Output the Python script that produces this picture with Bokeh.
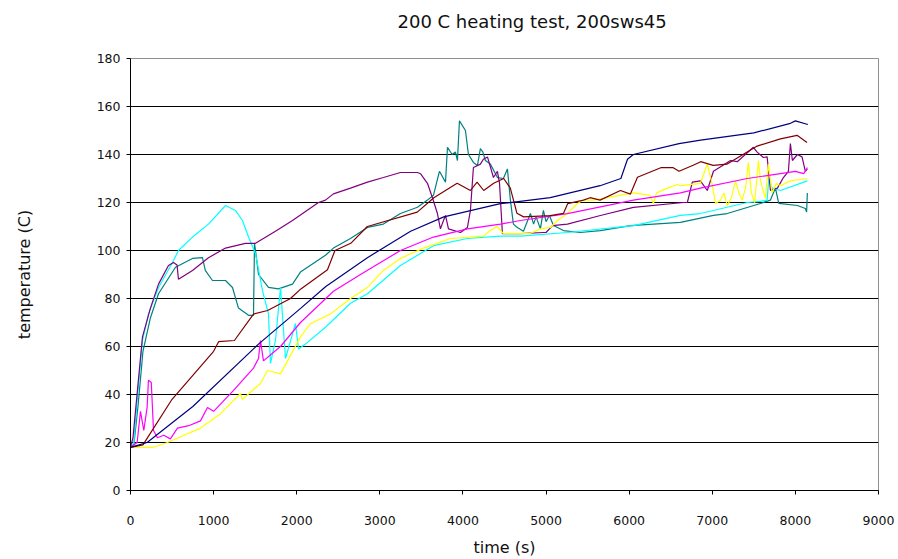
from bokeh.plotting import figure
from bokeh.models import FixedTicker, Title
from bokeh.embed import file_html
from bokeh.resources import INLINE

title_text = "200 C heating test, 200sws45"
x_label = "time (s)"
y_label = "temperature (C)"
x_ticks = [0, 1000, 2000, 3000, 4000, 5000, 6000, 7000, 8000, 9000]
y_ticks = [0, 20, 40, 60, 80, 100, 120, 140, 160, 180]

navy_x = [0, 200, 750, 1540, 2050, 2350, 2850, 3370, 3770, 4450, 5050, 5650, 5900, 5980, 6050, 6600, 6860, 7500, 7940, 8000, 8150]
navy_y = [18, 20, 35, 61, 76, 85, 97, 108, 114, 119.5, 122, 127, 130, 138, 140, 144.5, 146, 149, 153, 154, 152.5]

maroon_x = [0, 150, 500, 1000, 1060, 1250, 1480, 1650, 1925, 2050, 2370, 2460, 2650, 2850, 3450, 3650, 3930, 4090, 4170, 4250, 4370, 4490, 4570, 4650, 4730, 5050, 5210, 5260, 5450, 5530, 5650, 5895, 6015, 6100, 6380, 6530, 6600, 6770, 6860, 7010, 7180, 7370, 7540, 7820, 8020, 8140]
maroon_y = [18, 19, 38, 58, 62, 62.5, 73.5, 75, 80, 84, 92, 100, 103, 110, 116, 122, 128, 125, 128.5, 125, 128, 130, 126, 115.5, 114, 114.5, 115.5, 119.5, 121, 122, 121, 125, 123.5, 130.5, 134.5, 134.5, 133, 135.5, 137, 135.5, 136, 140, 143.5, 146.5, 148, 145]

magenta_x = [0, 80, 120, 160, 200, 216, 250, 277, 325, 400, 480, 565, 700, 842, 926, 1000, 1240, 1480, 1540, 1564, 1600, 1700, 1805, 2045, 2442, 2767, 3248, 3645, 4054, 4451, 4692, 5257, 6051, 6617, 6857, 7422, 8000, 8100, 8144]
magenta_y = [18, 20, 33, 25, 34.6, 46, 45, 25, 22, 23, 21.5, 26, 27, 29, 34.6, 33, 41.7, 51, 55, 62.5, 54, 57, 60, 70, 83, 90, 100, 105.6, 109, 111, 112.5, 115.4, 121, 124, 126, 130, 133, 132, 134.6]

yellow_x = [0, 277, 445, 842, 1083, 1323, 1347, 1564, 1648, 1805, 2045, 2165, 2406, 2647, 2851, 3043, 3248, 3525, 3850, 4246, 4330, 4410, 4487, 4800, 4932, 5053, 5136, 5257, 5377, 5450, 5570, 6051, 6250, 6292, 6330, 6460, 6580, 6617, 6857, 6940, 6990, 7040, 7100, 7140, 7180, 7230, 7280, 7320, 7360, 7400, 7434, 7470, 7510, 7555, 7580, 7639, 7675, 7720, 7770, 7820, 7940, 8144]
yellow_y = [18, 18, 20, 26, 32, 40.4, 38, 44.6, 50, 48.6, 64, 69.5, 73.6, 80, 84.6, 91.7, 96.7, 101, 105, 106, 108.3, 110, 107, 107, 109, 109.6, 112.5, 115.4, 119.6, 121, 121, 124, 123, 119.6, 124, 126, 127.5, 127, 128, 136, 129, 119.6, 121, 124, 118.7, 122, 129, 124, 121, 126, 136.7, 124, 120, 137.5, 129, 121.7, 136, 124, 128, 127, 129, 130]

cyan_x = [0, 40, 84, 144, 217, 337, 505, 577, 746, 938, 1143, 1263, 1347, 1420, 1504, 1588, 1660, 1684, 1744, 1805, 1865, 1985, 2021, 2105, 2346, 2647, 2851, 3248, 3645, 4054, 4451, 4692, 5257, 6051, 6617, 6857, 7422, 7579, 7660, 7680, 7720, 7820, 8144]
cyan_y = [18, 20, 39, 62.5, 73.7, 84.6, 95, 100, 105.6, 111, 118.75, 116.7, 112.5, 105.6, 98.75, 83.3, 73.6, 53, 62.5, 84.6, 55, 69.6, 59, 61, 68, 78, 82, 93.75, 102, 105, 106, 106, 107.5, 110.4, 114.6, 115.4, 120, 120.5, 121, 130, 126, 125, 129]

teal_x = [0, 40, 90, 150, 240, 337, 541, 746, 866, 900, 986, 1143, 1227, 1299, 1420, 1480, 1492, 1504, 1540, 1660, 1780, 1949, 2045, 2346, 2442, 2647, 2851, 3043, 3248, 3453, 3573, 3645, 3717, 3790, 3814, 3870, 3910, 3934, 3958, 4030, 4066, 4126, 4174, 4210, 4240, 4270, 4330, 4415, 4487, 4535, 4571, 4607, 4655, 4728, 4812, 4850, 4880, 4932, 4968, 5000, 5040, 5089, 5209, 5413, 5654, 6015, 6617, 7014, 7180, 7579, 7700, 7760, 7800, 8024, 8120, 8135, 8144]
teal_y = [18, 19, 35, 58, 72, 82, 93, 96.7, 97, 91.7, 87.5, 87.5, 84.6, 76, 73, 73, 103, 100, 90, 84.6, 84, 86, 91, 98, 101, 105, 109.6, 111, 115.4, 118, 121, 123, 133, 128.5, 143, 140, 141, 137.5, 154, 150, 140, 136.7, 135.4, 142.5, 141, 137.5, 136, 130.4, 130, 134, 121, 111, 109.6, 108, 115.4, 111, 114, 109, 116.7, 112, 114.6, 110.4, 108.3, 107.5, 108.3, 110.4, 111.7, 114.6, 115.4, 119.6, 121, 126, 119.6, 118.75, 117.5, 116, 124]

purple_x = [0, 30, 84, 144, 240, 337, 457, 517, 560, 577, 746, 938, 1143, 1383, 1504, 1744, 1949, 2262, 2346, 2442, 2647, 2851, 3043, 3248, 3453, 3489, 3573, 3633, 3693, 3729, 3766, 3790, 3826, 3970, 4054, 4090, 4126, 4210, 4246, 4295, 4367, 4415, 4440, 4475, 4692, 4968, 5000, 5077, 5257, 5654, 6051, 6653, 6700, 6760, 6857, 6940, 7014, 7220, 7300, 7495, 7540, 7615, 7660, 7700, 7784, 7856, 7916, 7940, 7964, 8024, 8080, 8120, 8144]
purple_y = [18, 22, 42, 64, 76, 86, 93.75, 95, 94, 88, 91.7, 97, 101, 103, 103, 108, 112.5, 120, 121, 123.6, 126, 128.5, 130.4, 132.5, 132.5, 132, 128, 122, 115.4, 109, 112.5, 114.6, 109, 107.5, 109.6, 116.7, 134.6, 136, 138, 139, 130.4, 133, 128, 107, 107, 107.5, 107.5, 110.4, 111, 114.6, 118, 120, 120, 128.5, 129, 125, 133, 137.5, 137, 143, 141, 138.75, 139, 125, 126, 130.4, 133, 144.6, 137.5, 140, 139, 133, 134]

series = [
    (teal_x, teal_y, "#008080"),
    (cyan_x, cyan_y, "#00FFFF"),
    (purple_x, purple_y, "#800080"),
    (yellow_x, yellow_y, "#FFFF00"),
    (magenta_x, magenta_y, "#FF00FF"),
    (maroon_x, maroon_y, "#800000"),
    (navy_x, navy_y, "#000080"),
]

FONT = "DejaVu Sans"

p = figure(width=896, height=559, x_range=(0, 9000), y_range=(0, 180),
           output_backend="svg", toolbar_location=None,
           min_border_left=130, min_border_right=18, min_border_top=58,
           min_border_bottom=69)
p.title = Title(text=title_text, align="left", offset=267, standoff=10,
                text_font=FONT, text_font_size="18px", text_font_style="normal",
                text_color="#111111")
# spacer between title and plot frame (empty text, only adds vertical room)
p.add_layout(Title(text=" ", standoff=0, text_font_size="18px"), "above")
p.background_fill_color = "white"
p.border_fill_color = "white"
p.outline_line_color = "#909090"
p.outline_line_width = 1

p.xgrid.visible = False
p.ygrid.ticker = FixedTicker(ticks=[20, 40, 60, 80, 100, 120, 140, 160])
p.ygrid.grid_line_color = "black"
p.ygrid.grid_line_width = 1

for xs, ys, c in series:
    p.line(xs, ys, line_color=c, line_width=1.2)

p.xaxis.ticker = FixedTicker(ticks=x_ticks)
p.yaxis.ticker = FixedTicker(ticks=y_ticks)
for ax in (p.xaxis[0], p.yaxis[0]):
    ax.axis_line_color = "black"
    ax.axis_line_width = 1
    ax.major_tick_line_color = "black"
    ax.major_tick_in = 0
    ax.major_tick_out = 4
    ax.minor_tick_line_color = None
    ax.major_label_text_font = FONT
    ax.major_label_text_font_size = "12.5px"
    ax.major_label_text_color = "#111111"
    ax.axis_label_text_font = FONT
    ax.axis_label_text_font_size = "16px"
    ax.axis_label_text_font_style = "normal"
    ax.axis_label_text_color = "#111111"

p.xaxis.axis_label = x_label
p.yaxis.axis_label = y_label
p.xaxis.major_label_standoff = 21
p.xaxis.axis_label_standoff = 10
p.yaxis.major_label_standoff = 6
p.yaxis.axis_label_standoff = 60

open("out.html", "w").write(file_html(p, INLINE))
